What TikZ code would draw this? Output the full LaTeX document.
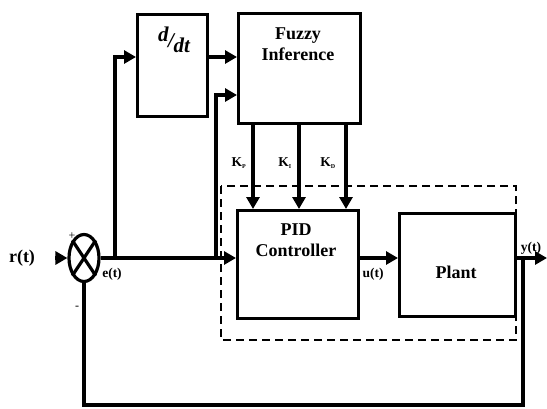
\documentclass[tikz,border=0pt]{standalone}
\usepackage{fontspec}
\setmainfont{Liberation Serif}
\usetikzlibrary{arrows.meta,shapes.geometric,calc}
\begin{document}
\begin{tikzpicture}[x=1pt,y=-1pt,
 blk/.style={draw,line width=3.2pt,inner sep=0pt},
 btxt/.style={inner sep=0pt,align=center,font=\fontsize{18}{21}\selectfont\bfseries},
 wire/.style={line width=3.2pt},
 arr/.style={wire,-{Triangle[length=12pt,width=13pt]}},
 lbl/.style={inner sep=0pt,font=\fontsize{13.5}{15}\selectfont\bfseries},
 sgn/.style={inner sep=0pt,font=\fontsize{12}{12}\selectfont},
 dsh/.style={line width=2pt,dash pattern=on 8pt off 5pt}
]
\useasboundingbox (0,0) rectangle (547,408);
% blocks
\node[blk,minimum width=70pt,minimum height=102pt,anchor=north west] (ddt) at (136,13) {};
\node[blk,minimum width=122pt,minimum height=110pt,anchor=north west] (fuzzy) at (237,12) {};
\node[blk,minimum width=121pt,minimum height=108pt,anchor=north west] (pid) at (236,209) {};
\node[blk,minimum width=116pt,minimum height=103pt,anchor=north west] (plant) at (398,212) {};
\node[draw,ellipse,line width=3.2pt,minimum width=30pt,minimum height=47pt,inner sep=0pt] (sum) at (84,258) {};
\draw[wire] (sum.north west) -- (sum.south east);
\draw[wire] (sum.north east) -- (sum.south west);
% block texts
\node[inner sep=0pt,font=\fontsize{21}{23}\selectfont\itshape\bfseries] (ddtl) at (174,40)
  {\raisebox{6pt}{d}\kern-0.5pt/\kern-0.5pt\raisebox{-5pt}{dt}};
\node[btxt] (fuzzyl) at (298,44) {Fuzzy\\Inference};
\node[btxt] (pidl) at (296,240) {PID\\Controller};
\node[btxt] (plantl) at (456,272) {Plant};
% dashed boundary
\draw[dsh] (221,186) rectangle (516,340);
% coordinates
\coordinate (rin) at (55,258);
\coordinate (j1) at (115,258);
\coordinate (j2) at (216,258);
\coordinate (j3) at (523,258);
\coordinate (yend) at (547,258);
\coordinate (fb) at (523,405);
\coordinate (a1) at (0,57);
\coordinate (a2) at (0,95);
\coordinate (kp) at (253,0);
\coordinate (ki) at (299,0);
\coordinate (kd) at (346,0);
% connectors
\draw[arr] (rin) -- (sum.west);
\draw[arr] (sum.east) -- (pid.west |- sum.east);
\draw[arr] (j1) |- (ddt.west |- a1);
\draw[arr] (ddt.east |- a1) -- (fuzzy.west |- a1);
\draw[arr] (j2) |- (fuzzy.west |- a2);
\draw[arr] (fuzzy.south -| kp) -- (pid.north -| kp);
\draw[arr] (fuzzy.south -| ki) -- (pid.north -| ki);
\draw[arr] (fuzzy.south -| kd) -- (pid.north -| kd);
\draw[arr] (pid.east |- sum.east) -- (plant.west |- sum.east);
\draw[arr] (plant.east |- sum.east) -- (yend);
\draw[wire] (j3) |- (sum.south |- fb) -- (sum.south);
% labels
\node[btxt] (rl) at (22,258) {r(t)};
\node[sgn] (plus) at (72,236) {+};
\node[sgn] (minus) at (77,308) {-};
\node[lbl] (el) at (112,274) {e(t)};
\node[lbl] (ul) at (373,274) {u(t)};
\node[lbl] (yl) at (531,248) {y(t)};
\node[lbl] (kpl) at (239,163) {K\textsubscript{\fontsize{6}{6}\selectfont P}};
\node[lbl] (kil) at (285,163) {K\textsubscript{\fontsize{6}{6}\selectfont I}};
\node[lbl] (kdl) at (328,163) {K\textsubscript{\fontsize{6}{6}\selectfont D}};
\end{tikzpicture}
\end{document}
